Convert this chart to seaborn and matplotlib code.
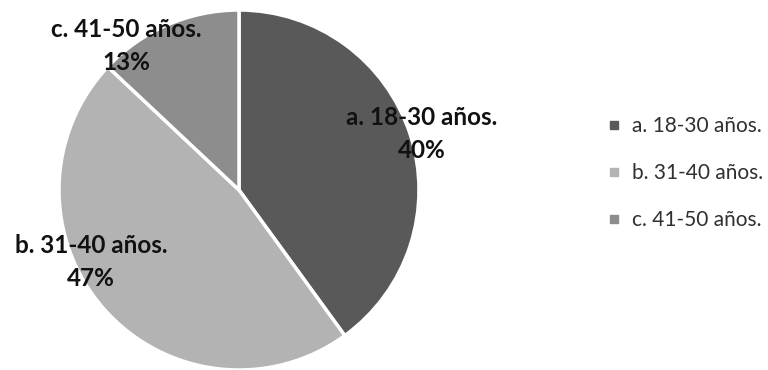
import matplotlib
matplotlib.use("Agg")
import matplotlib.pyplot as plt
from matplotlib.lines import Line2D
import seaborn as sns

# Age groups and their shares of respondents
categories = ["a. 18-30 años.", "b. 31-40 años.", "c. 41-50 años."]
shares = [40, 47, 13]
colors = ["#595959", "#b3b3b3", "#8d8d8d"]

sns.set_theme(style="white")
plt.rcParams["font.family"] = ["Lato", "DejaVu Sans"]

W, H = 768, 370
fig = plt.figure(figsize=(W / 100, H / 100), dpi=100)

# Pie axes placed in pixel units
cx, cy, r = 239, 190, 180
ax = fig.add_axes([(cx - r) / W, (H - cy - r) / H, 2 * r / W, 2 * r / H])

wedges, _ = ax.pie(
    shares,
    colors=colors,
    startangle=90,
    counterclock=False,
    wedgeprops=dict(edgecolor="white", linewidth=2.5),
)
ax.set_xlim(-1, 1)
ax.set_ylim(-1, 1)
ax.set_aspect("equal")

# Slice labels (pixel positions of label centres)
label_pos = [(422, 134), (91, 262), (126, 46)]
for cat, val, (px, py) in zip(categories, shares, label_pos):
    fig.text(px / W, 1 - py / H, f"{cat}\n{val}%", ha="center", va="center",
             fontsize=17.5, fontweight="bold", color="#111111", linespacing=1.5)

handles = [Line2D([], [], marker="s", linestyle="none", markersize=6,
                  markerfacecolor=c, markeredgecolor=c) for c in colors]
fig.legend(handles, categories, loc="center left",
           bbox_to_anchor=(587 / W, 1 - 173 / H), frameon=False,
           fontsize=15, labelspacing=1.3, handlelength=0.8,
           handletextpad=0.45, labelcolor="#303030")

fig.savefig("out.png", dpi=100)
